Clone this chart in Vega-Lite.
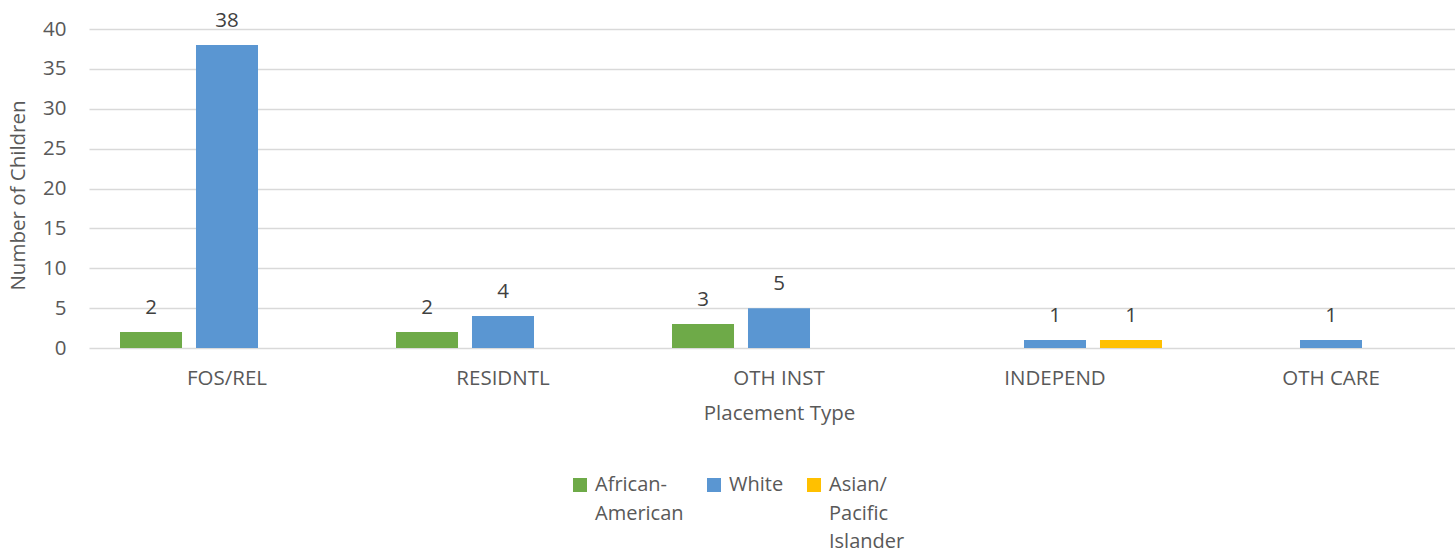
{
  "$schema": "https://vega.github.io/schema/vega-lite/v6.json",
  "autosize": {"type": "none"},
  "padding": {"left": 89, "top": 29, "right": 0, "bottom": 206},
  "width": 1380,
  "height": 319,
  "background": "white",
  "config": {
    "view": {"stroke": null},
    "font": "Open Sans",
    "axis": {"labelFont": "Open Sans", "titleFont": "Open Sans", "labelColor": "#595959", "titleColor": "#595959", "labelFontSize": 20.5, "titleFontSize": 20.5, "titleFontWeight": "normal"},
    "legend": {"labelFont": "Open Sans", "labelFontSize": 20, "labelColor": "#595959"},
    "style": {"guide-label": {"lineHeight": 28.5}}
  },
  "data": {
    "values": [
      {"type": "FOS/REL", "race": "African-American", "n": 2},
      {"type": "FOS/REL", "race": "White", "n": 38},
      {"type": "RESIDNTL", "race": "African-American", "n": 2},
      {"type": "RESIDNTL", "race": "White", "n": 4},
      {"type": "OTH INST", "race": "African-American", "n": 3},
      {"type": "OTH INST", "race": "White", "n": 5},
      {"type": "INDEPEND", "race": "White", "n": 1},
      {"type": "INDEPEND", "race": "Asian/Pacific Islander", "n": 1},
      {"type": "OTH CARE", "race": "White", "n": 1}
    ]
  },
  "encoding": {
    "x": {
      "field": "type", "type": "nominal",
      "sort": ["FOS/REL", "RESIDNTL", "OTH INST", "INDEPEND", "OTH CARE"],
      "scale": {"paddingInner": 0, "paddingOuter": 0},
      "axis": {"title": "Placement Type", "labelAngle": 0, "ticks": false, "domain": false, "labelPadding": 20, "titlePadding": 15}
    },
    "xOffset": {
      "field": "race", "type": "nominal",
      "sort": ["African-American", "White", "Asian/Pacific Islander"],
      "scale": {"domain": ["African-American", "White", "Asian/Pacific Islander"], "paddingInner": 0.184, "paddingOuter": 0.408}
    },
    "y": {
      "field": "n", "type": "quantitative",
      "scale": {"domain": [0, 40]},
      "axis": {"title": "Number of Children", "values": [0, 5, 10, 15, 20, 25, 30, 35, 40], "labelOverlap": false, "ticks": false, "domain": false, "gridColor": "#D9D9D9", "gridWidth": 1.3, "labelPadding": 23, "titlePadding": 14, "titleY": 166}
    }
  },
  "layer": [
    {
      "mark": {"type": "bar"},
      "encoding": {
        "color": {
          "field": "race", "type": "nominal",
          "scale": {"domain": ["African-American", "White", "Asian/Pacific Islander"], "range": ["#6EAA48", "#5A96D2", "#FFC000"]},
          "legend": {
            "title": null,
            "orient": "none",
            "direction": "horizontal",
            "legendX": 481,
            "legendY": 446,
            "symbolType": "square",
            "symbolSize": 196,
            "symbolStrokeWidth": 0,
            "columnPadding": 20,
            "labelOffset": 5,
            "labelBaseline": "middle",
            "labelExpr": "datum.label == 'African-American' ? ['African-', 'American', ''] : datum.label == 'Asian/Pacific Islander' ? ['Asian/', 'Pacific', 'Islander'] : [datum.label, '', '']",
            "labelLimit": 300
          }
        }
      }
    },
    {
      "mark": {"type": "text", "baseline": "bottom", "dy": -14, "fontSize": 20.5, "color": "#404040", "font": "Open Sans"},
      "encoding": {"text": {"field": "n", "type": "quantitative"}}
    }
  ]
}
